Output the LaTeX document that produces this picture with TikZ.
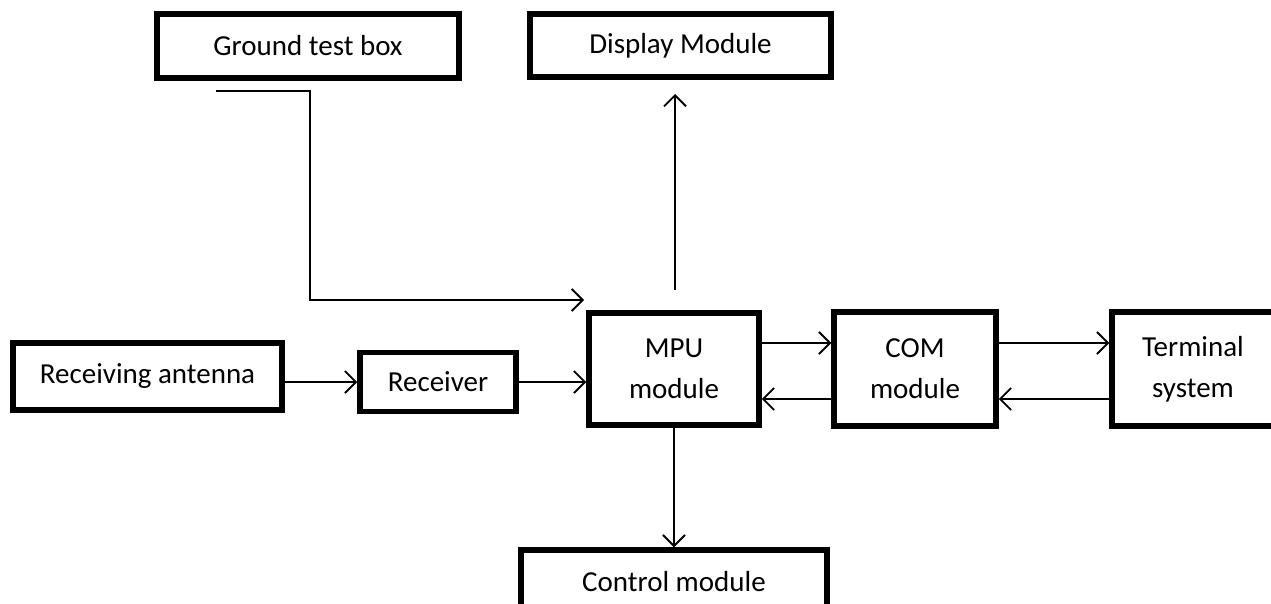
\documentclass[tikz,border=0pt]{standalone}
\usepackage{fontspec}
\setmainfont{Carlito}
\usetikzlibrary{arrows.meta}
\begin{document}
\begin{tikzpicture}[x=1pt,y=-1pt,
  blk/.style={draw=black,line width=5.5pt,fill=white,inner sep=0pt,align=center,
    font=\fontsize{29}{41}\selectfont},
  conn/.style={line width=1.9pt,-{Straight Barb[length=11pt,width=22pt,line width=1.9pt]}}]
\clip (0,0) rectangle (1271,603);
\fill[white] (0,0) rectangle (1271,603);
\node[blk,minimum width=302pt,minimum height=64pt] (gtb) at (308,46) {Ground test box};
\node[blk,minimum width=301pt,minimum height=63pt] (disp) at (680.5,45.5) {Display Module};
\node[blk,minimum width=269pt,minimum height=67pt] (ant) at (147.5,376.5) {Receiving antenna};
\node[blk,minimum width=156pt,minimum height=59pt] (rcv) at (438,382) {Receiver};
\node[blk,minimum width=170pt,minimum height=112pt] (mpu) at (674,369) {MPU\\module};
\node[blk,minimum width=162pt,minimum height=114pt] (com) at (915,369) {COM\\module};
\node[blk,minimum width=162pt,minimum height=114pt] (term) at (1193,369) {Terminal\\system};
\node[blk,minimum width=306pt,minimum height=64pt] (ctrl) at (674,582) {Control module};
% ground test box line
\coordinate (g0) at (216,91);
\coordinate (g1) at (310,91);
\coordinate (g2) at (310,300);
\coordinate (g3) at (584,300);
\draw[conn] (g0) -- (g1) -- (g2) -- (g3);
% display arrow
\coordinate (d0) at (675,290);
\coordinate (d1) at (675,94);
\draw[conn] (d0) -- (d1);
% control arrow
\draw[conn] (mpu.south) -- (mpu.south |- ctrl.north);
% antenna -> receiver
\draw[conn] (ant.east |- rcv.west) -- (rcv.west);
% receiver -> mpu
\draw[conn] (rcv.east) -- (rcv.east -| mpu.west);
% mpu <-> com
\draw[conn] ([yshift=26pt]mpu.east) -- ([yshift=26pt]com.west);
\draw[conn] ([yshift=-30pt]com.west) -- ([yshift=-30pt]mpu.east);
% com <-> terminal
\draw[conn] ([yshift=26pt]com.east) -- ([yshift=26pt]term.west);
\draw[conn] ([yshift=-30pt]term.west) -- ([yshift=-30pt]com.east);
\end{tikzpicture}
\end{document}
